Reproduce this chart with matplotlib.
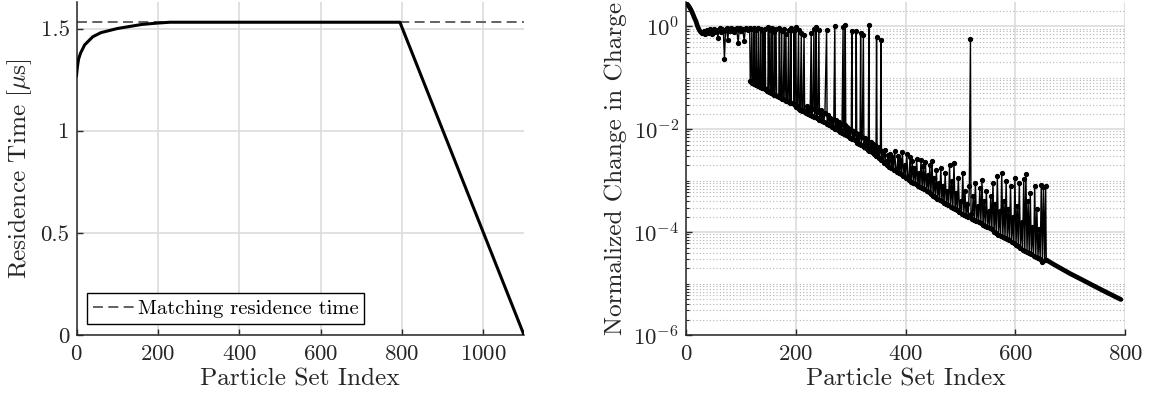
import numpy as np
import matplotlib
matplotlib.use("Agg")
import matplotlib.pyplot as plt
from matplotlib.ticker import LogLocator, FixedLocator, NullFormatter

plt.rcParams['font.family'] = 'serif'
plt.rcParams['font.serif'] = ['cmr10']
plt.rcParams['mathtext.fontset'] = 'cm'
plt.rcParams['axes.formatter.use_mathtext'] = True

# ---------------- data: left panel ----------------
res_index = [0, 2, 5, 10, 15, 20, 30, 40, 50, 60, 80, 100, 130, 160, 200, 230, 795, 1100]
res_time = [1.27, 1.31, 1.35, 1.38, 1.40, 1.42, 1.44, 1.46, 1.47, 1.48, 1.49, 1.50,
            1.51, 1.52, 1.527, 1.531, 1.531, 0.0]
matching_time = 1.531
left_xticks = [0, 200, 400, 600, 800, 1000]
left_yticks = [0, 0.5, 1, 1.5]
left_yticklabels = ['0', '0.5', '1', '1.5']

# ---------------- data: right panel (log10 of normalized change) ----------------
head_index = [0, 3, 6, 9, 12, 15, 18, 21, 24, 27, 30]
head_log = [0.45, 0.42, 0.375, 0.32, 0.25, 0.17, 0.10, 0.0, -0.07, -0.12, -0.14]

plateau_index = [30, 33, 35, 37, 39, 41, 43, 45, 47, 49, 51, 53, 55, 57, 58, 60, 62, 64,
                 66, 68, 70, 72, 74, 76, 78, 80, 82, 84, 86, 88, 90, 92, 95, 97, 99, 101,
                 103, 106, 108, 110, 112, 114, 116]
plateau_log = [-0.14, -0.10, -0.16, -0.12, -0.08, -0.14, -0.06, -0.11, -0.15, -0.09,
               -0.05, -0.12, -0.07, -0.10, -0.22, -0.08, -0.04, -0.11, -0.06, -0.09,
               -0.63, -0.07, -0.03, -0.26, -0.06, -0.10, -0.04, -0.08, -0.05, -0.12,
               -0.06, -0.03, -0.32, -0.07, -0.04, -0.09, -0.05, -0.28, -0.06, -0.03,
               -0.08, -0.05, -0.04]

spike_index = [117, 118, 120, 121, 123, 124, 125, 127, 128, 129, 131, 132, 133, 135, 136,
               137, 139, 140, 141, 143, 144, 145, 147, 149, 150, 151, 153, 154, 156, 157,
               158, 160, 161, 162, 164, 165, 167, 169, 170, 171, 173, 174, 175, 177, 179,
               180, 182, 183, 185, 187, 188, 190, 191, 192, 194, 196, 197, 198, 200, 201,
               203, 205, 206, 208, 210, 211, 213, 215, 216, 218,
               220, 222, 224, 226, 228, 229, 231, 233, 234, 236, 237, 238, 240, 242, 243,
               245, 247, 249, 251, 253, 256, 257, 259, 261, 263, 265, 267, 269, 271, 272,
               274, 276, 278, 280, 282, 284, 286, 287, 289, 290, 291, 293, 295, 297, 299,
               301, 302, 303, 305, 307, 309, 310, 311, 313, 315, 317, 318, 319, 321, 323,
               324, 326, 328, 330, 332, 333, 334, 336, 338, 340, 342, 344, 346, 347, 348,
               350, 352, 354, 355, 356]
spike_log = [-1.07, -1.09, -0.05, -1.10, -1.12, -0.04, -1.13, -1.14, -0.07, -1.15, -1.16,
             -0.03, -1.17, -1.19, -0.06, -1.19, -1.21, -0.10, -1.21, -1.23, -0.05, -1.23,
             -1.25, -1.26, -0.02, -1.27, -0.08, -1.29, -1.30, -0.04, -1.31, -1.33, -0.12,
             -1.33, -0.06, -1.35, -1.36, -1.38, -0.03, -1.38, -1.40, -0.09, -1.41, -1.42,
             -0.05, -1.43, -0.15, -1.45, -1.46, -0.07, -1.48, -1.49, -0.04, -1.50, -1.50,
             -1.52, -0.10, -1.54, -0.02, -1.57, -1.55, -0.08, -1.60, -1.62, -0.14, -1.64,
             -1.62, -0.17, -1.66, -1.68,
             -1.55, -1.70, -1.58, -1.72, -0.14, -1.74, -1.60, -0.05, -1.77, -1.62, -0.01,
             -1.79, -1.66, -0.08, -1.82, -1.62, -1.84, -1.70, -1.86, -1.68, -0.07, -1.90,
             -1.72, -1.92, -1.78, -1.95, -1.80, -1.98, 0.0, -2.00, -1.82, -2.02, -1.86,
             -2.05, -1.90, -2.08, -0.02, -2.09, -1.92, 0.02, -2.12, -1.95, -2.14, -2.00,
             -2.17, -2.02, -0.09, -2.20, -2.03, -2.22, -2.08, -0.09, -2.26, -2.10, -2.28,
             -2.12, -0.13, -2.31, -2.15, -0.17, -2.34, -2.18, -2.37, -2.20, -2.41, 0.02,
             -2.42, -2.25, -2.45, -2.28, -2.48, -2.30, -2.52, -0.21, -2.53, -2.35, -2.56,
             -2.40, -0.26, -2.60]

band_index = [358, 360, 362, 364, 366, 368, 370, 372, 374, 376, 378, 380, 382, 384, 386,
              388, 390, 392, 394, 396, 398, 400, 402, 404, 406, 408, 410, 412, 414, 416,
              418, 420, 422, 424, 426, 428, 430, 432, 434, 436, 438, 440, 442, 444, 446,
              448, 450, 452, 454, 456, 458, 460, 462, 464, 466, 468, 470, 472, 474, 476,
              478, 480, 482, 484, 486, 488, 490, 492, 494, 496, 498, 500, 502, 504, 506,
              508, 510, 512, 514, 516, 518, 519, 521, 523, 525, 527, 529, 531, 533, 535,
              537, 539, 541, 543, 545, 547, 549, 551, 553, 555, 557, 559, 561, 563, 565,
              567, 569, 571, 573, 575, 577, 579, 581, 583, 585, 587, 589, 591, 593, 595,
              597, 599, 601, 603, 605, 607, 609, 611, 613, 615, 617, 619, 621, 623, 625,
              627, 629, 631, 633, 635, 637, 639, 641, 643, 645, 647, 649, 651, 653, 655,
              656]
band_log = [-2.45, -2.66, -2.40, -2.62, -2.70, -2.50, -2.74, -2.48, -2.76, -2.55, -2.80,
            -2.42, -2.78, -2.83, -2.52, -2.86, -2.60, -2.88, -2.45, -2.91, -2.70, -2.95,
            -2.48, -2.92, -2.98, -2.55, -3.02, -2.62, -3.04, -2.75, -3.07, -2.58, -3.10,
            -2.85, -3.12, -2.60, -3.15, -2.72, -3.17, -2.64, -3.20, -2.90, -3.23, -2.70,
            -3.26, -2.62, -3.30, -2.95, -3.32, -2.80, -3.36, -3.05, -3.38, -2.75, -3.40,
            -3.10, -3.43, -2.85, -3.45, -3.20, -3.48, -2.70, -3.51, -3.00, -3.53, -2.66,
            -3.56, -3.25, -3.58, -2.95, -3.61, -3.40, -3.64, -2.85, -3.66, -3.20, -3.68,
            -3.45, -3.70, -3.10, -0.24, -3.64, -3.74, -3.30, -3.76, -3.05, -3.78, -3.50,
            -3.80, -3.15, -3.82, -2.99, -3.86, -3.40, -3.88, -3.20, -3.90, -3.60, -3.93,
            -3.30, -3.95, -3.05, -3.99, -3.45, -4.02, -2.92, -4.05, -3.60, -4.07, -2.85,
            -4.09, -3.40, -4.11, -3.00, -4.14, -3.55, -4.16, -3.10, -4.19, -3.70, -4.22,
            -2.95, -4.26, -3.50, -4.28, -3.05, -4.31, -3.80, -4.34, -2.97, -4.36, -2.88,
            -4.39, -3.40, -4.41, -3.25, -4.43, -3.90, -4.46, -3.10, -4.48, -3.55, -4.50,
            -3.95, -4.52, -3.09, -4.58, -3.12, -4.55, -3.10, -4.54]

tail_index = [656, 670, 685, 700, 722, 740, 760, 775, 792]
tail_log = [-4.54, -4.63, -4.72, -4.81, -4.93, -5.03, -5.14, -5.22, -5.31]

right_xticks = [0, 200, 400, 600, 800]
right_yticks = [1e-6, 1e-4, 1e-2, 1e0]

# ---------------- figure ----------------
fig = plt.figure(figsize=(11.49, 4.03), dpi=100)
ax1 = fig.add_axes([76.5 / 1149, 68 / 403, (524 - 76.5) / 1149, 333 / 403])
ax2 = fig.add_axes([686 / 1149, 68 / 403, (1125.3 - 686) / 1149, 333 / 403])

ink = '#262626'
grid_major = '#dcdcdc'
tick_fs = 16.5
label_fs = 18.2

for ax in (ax1, ax2):
    for s in ('top', 'right'):
        ax.spines[s].set_visible(False)
    for s in ('left', 'bottom'):
        ax.spines[s].set_color(ink)
        ax.spines[s].set_linewidth(1.1)
    ax.tick_params(which='major', direction='in', length=4, width=1.0, color=ink,
                   labelsize=tick_fs, labelcolor=ink)
    ax.tick_params(axis='x', which='major', pad=7)
    ax.tick_params(axis='y', which='major', pad=5)
    ax.tick_params(which='minor', direction='in', length=2.5, width=0.8, color=ink)
    ax.set_axisbelow(True)

# left panel
ax1.axhline(matching_time, color='#555555', lw=1.3, ls=(0, (5.5, 3)),
            label='Matching residence time', zorder=2)
ax1.plot(res_index, res_time, color='black', lw=2.2, zorder=3)
ax1.set_xlim(0, 1100)
ax1.set_ylim(0, 1.63)
ax1.set_xticks(left_xticks)
ax1.set_yticks(left_yticks)
ax1.set_yticklabels(left_yticklabels)
ax1.grid(True, which='major', color=grid_major, lw=1.2)
ax1.set_xlabel('Particle Set Index', fontsize=label_fs, color=ink, labelpad=3)
ax1.set_ylabel(r'Residence Time [$\mu$s]', fontsize=label_fs, color=ink, labelpad=5)
leg = ax1.legend(loc='lower left', bbox_to_anchor=(0.0235, 0.033), borderaxespad=0,
                 fontsize=14.85, handlelength=2.0, handletextpad=0.15, borderpad=0.3,
                 fancybox=False, framealpha=1, edgecolor='black')
leg.get_frame().set_linewidth(1.0)

# right panel
body_index = plateau_index + spike_index + band_index
body_log = plateau_log + spike_log + band_log
hx = np.array(head_index)
hy = 10.0 ** np.array(head_log)
bx = np.array(body_index)
by = 10.0 ** np.array(body_log)
tx = np.array(tail_index)
ty = 10.0 ** np.array(tail_log)
ax2.plot(bx, by, color='black', lw=1.0, marker='o', ms=2.8, zorder=3)
ax2.plot(hx, hy, color='black', lw=3.4, solid_capstyle='round', zorder=3)
ax2.plot(tx, ty, color='black', lw=3.4, solid_capstyle='round', zorder=3)
ax2.set_yscale('log')
ax2.set_xlim(0, 800)
ax2.set_ylim(1e-6, 10 ** 0.47)
ax2.set_xticks(right_xticks)
ax2.yaxis.set_major_locator(FixedLocator(right_yticks))
ax2.yaxis.set_minor_locator(LogLocator(base=10, subs=np.arange(1, 10), numticks=50))
ax2.yaxis.set_minor_formatter(NullFormatter())
ax2.grid(True, which='major', axis='both', color=grid_major, lw=1.2)
ax2.grid(True, which='minor', axis='y', color='#b4b4b4', lw=0.8, ls=(0, (1, 2)))
ax2.set_xlabel('Particle Set Index', fontsize=label_fs, color=ink, labelpad=3)
ax2.set_ylabel('Normalized Change in Charge', fontsize=label_fs, color=ink, labelpad=4)

fig.savefig('out.png', dpi=100)
